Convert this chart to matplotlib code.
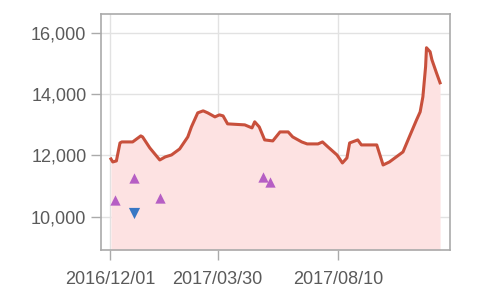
import numpy as np
import pandas as pd
import matplotlib
matplotlib.use('Agg')
import matplotlib.pyplot as plt
import matplotlib.dates as mdates
from matplotlib.ticker import FuncFormatter

plt.rcParams['font.family'] = ['Liberation Sans', 'DejaVu Sans']

# ライン（価格の推移）
line_dates = ['2016-12-02', '2016-12-04', '2016-12-08', '2016-12-12', '2016-12-14',
              '2016-12-26', '2017-01-04', '2017-01-06', '2017-01-14', '2017-01-25',
              '2017-01-31', '2017-02-07', '2017-02-16', '2017-02-25', '2017-03-01',
              '2017-03-08', '2017-03-14', '2017-03-19', '2017-03-27', '2017-04-01',
              '2017-04-05', '2017-04-10', '2017-04-29', '2017-05-07', '2017-05-10',
              '2017-05-15', '2017-05-21', '2017-05-30', '2017-06-07', '2017-06-16',
              '2017-06-21', '2017-07-01', '2017-07-07', '2017-07-19', '2017-07-24',
              '2017-07-30', '2017-08-09', '2017-08-15', '2017-08-20', '2017-08-23',
              '2017-09-01', '2017-09-05', '2017-09-22', '2017-09-29', '2017-10-06',
              '2017-10-21', '2017-10-28', '2017-11-05', '2017-11-09', '2017-11-12',
              '2017-11-15', '2017-11-16', '2017-11-20', '2017-11-22', '2017-11-27',
              '2017-12-01']
line_values = [11887, 11789, 11822, 12410, 12443,
               12443, 12640, 12607, 12247, 11854,
               11953, 12018, 12214, 12607, 12934,
               13393, 13458, 13393, 13261, 13327,
               13294, 13033, 13000, 12901, 13100,
               12934, 12509, 12476, 12770, 12770,
               12607, 12443, 12378, 12378, 12443,
               12280, 12018, 11756, 11920, 12410,
               12509, 12345, 12345, 11690, 11789,
               12116, 12607, 13163, 13425, 13916,
               14898, 15519, 15388, 15127, 14701,
               14374]

# マーカー（上向き・下向き）
up_dates = ['2016-12-06', '2016-12-28', '2017-01-25', '2017-05-19', '2017-05-27']
up_values = [10546, 11255, 10600, 11288, 11124]
down_dates = ['2016-12-28']
down_values = [10120]

x_ticks = ['2016-12-01', '2017-03-30', '2017-08-10']
y_ticks = [10000, 12000, 14000, 16000]

line_x = pd.to_datetime(line_dates)
up_x = pd.to_datetime(up_dates)
down_x = pd.to_datetime(down_dates)

fig = plt.figure(figsize=(5.0, 2.99), dpi=100)
ax = fig.add_axes([0.202, 0.164, 0.698, 0.789])

ymin, ymax = 8914, 16620
ax.fill_between(line_x, line_values, ymin, color='#fde2e2', lw=0, zorder=1)
ax.plot(line_x, line_values, color='#c8503c', lw=2.2, zorder=3)
ax.scatter(up_x, up_values, marker='^', s=55, color='#b65ec4', zorder=4, lw=0)
ax.scatter(down_x, down_values, marker='v', s=65, color='#3877c4', zorder=4, lw=0)

ax.set_ylim(ymin, ymax)
ax.set_xlim(pd.Timestamp('2016-11-21'), pd.Timestamp('2017-12-12'))
ax.set_yticks(y_ticks)
ax.yaxis.set_major_formatter(FuncFormatter(lambda v, p: '{:,.0f}'.format(v)))
ax.set_xticks(pd.to_datetime(x_ticks))
ax.xaxis.set_major_formatter(mdates.DateFormatter('%Y/%m/%d'))

ax.grid(True, color='#e2e2e2', lw=1, zorder=0)
ax.set_axisbelow(True)
for s in ax.spines.values():
    s.set_color('#aaaaaa')
    s.set_linewidth(1.2)
ax.tick_params(colors='#aaaaaa', labelcolor='#5a5a5a', labelsize=13, length=7, width=1)
ax.tick_params(axis='x', pad=8)

fig.savefig('out.png', dpi=100)
